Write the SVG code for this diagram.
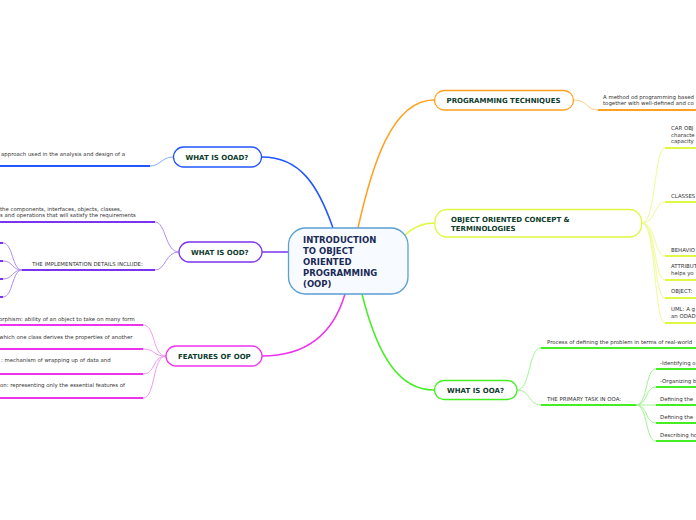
<svg xmlns="http://www.w3.org/2000/svg" width="696" height="520" viewBox="0 0 696 520">
<style>
.bg{fill:#ffffff}
.node{fill:#ffffff;stroke-width:1.3}
.lbl{font-family:"DejaVu Sans","Verdana",sans-serif;font-weight:bold;font-size:7px;fill:#0d3b2c}
.ctr{font-family:"DejaVu Sans","Verdana",sans-serif;font-weight:bold;font-size:8.5px;fill:#1a2a55}
.sm{font-family:"DejaVu Sans","Verdana",sans-serif;font-size:5.4px;fill:#333333}
.c{fill:none;stroke-width:1}
.u{fill:none;stroke-width:2}
.m{fill:none;stroke-width:1.5}
.blue{stroke:#2255ff}.blueL{stroke:#88a8ff}
.purple{stroke:#7a33ee}.purpleL{stroke:#b08cf5}
.mag{stroke:#ee33ee}.magL{stroke:#f59af5}
.orange{stroke:#ffa020}.orangeL{stroke:#ffcd80}
.yel{stroke:#e0f844}.yelL{stroke:#eefb95}
.green{stroke:#44ee22}.greenL{stroke:#a0f590}
</style>
<rect class="bg" x="0" y="0" width="696" height="520"/>
<g id="connectors">
  <!-- main -->
  <path class="m blue" d="M262,157 C300,157 318,185 333,228"/>
  <path class="m orange" d="M358,228 C372,165 392,100 434,100"/>
  <path class="m yel" d="M404,236 C414,226 424,223 435,223"/>
  <path class="m purple" d="M262,252 L288,252"/>
  <path class="m mag" d="M345,294 C332,338 302,356 262,356"/>
  <path class="m green" d="M362,294 C378,358 400,390 434,390"/>
  <!-- OOAD -->
  <path class="c blueL" d="M173,157 C162,157 160,166 150,166"/>
  <path class="u blue" d="M0,166 L150,166"/>
  <!-- OOD -->
  <path class="c purpleL" d="M179,252 C165,252 166,222 155,222"/>
  <path class="c purpleL" d="M179,252 C165,252 166,270 155,270"/>
  <path class="u purple" d="M0,222 L155,222"/>
  <path class="u purple" d="M22,270 L155,270"/>
  <path class="c purpleL" d="M22,270 C12,270 13,243 3,243"/>
  <path class="c purpleL" d="M22,270 C12,270 13,261 3,261"/>
  <path class="c purpleL" d="M22,270 C12,270 13,279 3,279"/>
  <path class="c purpleL" d="M22,270 C12,270 13,297 3,297"/>
  <path class="u purple" d="M0,243 L3,243 M0,261 L3,261 M0,279 L3,279 M0,297 L3,297"/>
  <!-- Features -->
  <path class="c magL" d="M166,356 C152,356 156,325 143,325"/>
  <path class="c magL" d="M166,356 C152,356 156,349 143,349"/>
  <path class="c magL" d="M166,356 C152,356 156,374 143,374"/>
  <path class="c magL" d="M166,356 C152,356 156,398 143,398"/>
  <path class="u mag" d="M0,325 L143,325 M0,349 L143,349 M0,374 L143,374 M0,398 L143,398"/>
  <!-- Programming -->
  <path class="c orangeL" d="M574,100 C588,100 586,110 598,110"/>
  <path class="u orange" d="M598,110 L696,110"/>
  <!-- OO concept -->
  <path class="c yelL" d="M642,223 C656,223 654,148 665,148"/>
  <path class="c yelL" d="M642,223 C656,223 654,202 665,202"/>
  <path class="c yelL" d="M642,223 C656,223 654,256 665,256"/>
  <path class="c yelL" d="M642,223 C656,223 654,280 665,280"/>
  <path class="c yelL" d="M642,223 C656,223 654,298 665,298"/>
  <path class="c yelL" d="M642,223 C656,223 654,323 665,323"/>
  <path class="u yel" d="M665,148 L696,148 M665,202 L696,202 M665,256 L696,256 M665,280 L696,280 M665,298 L696,298 M665,323 L696,323"/>
  <!-- OOA -->
  <path class="c greenL" d="M517,390 C531,390 528,348 541,348"/>
  <path class="c greenL" d="M517,390 C531,390 528,405 541,405"/>
  <path class="u green" d="M541,348 L696,348"/>
  <path class="u green" d="M541,405 L636,405"/>
  <path class="c greenL" d="M636,405 C648,405 645,369 656,369"/>
  <path class="c greenL" d="M636,405 C648,405 645,387 656,387"/>
  <path class="c greenL" d="M636,405 C648,405 645,405 656,405"/>
  <path class="c greenL" d="M636,405 C648,405 645,423 656,423"/>
  <path class="c greenL" d="M636,405 C648,405 645,441 656,441"/>
  <path class="u green" d="M656,369 L696,369 M656,387 L696,387 M656,405 L696,405 M656,423 L696,423 M656,441 L696,441"/>
</g>
<g id="center">
  <rect x="288.5" y="228" width="119.5" height="66" rx="17" fill="#f7fbff" stroke="#5a9fd4" stroke-width="1.3"/>
  <text class="ctr" x="303" y="243">INTRODUCTION</text>
  <text class="ctr" x="303" y="254">TO OBJECT</text>
  <text class="ctr" x="303" y="265">ORIENTED</text>
  <text class="ctr" x="303" y="276">PROGRAMMING</text>
  <text class="ctr" x="303" y="287">(OOP)</text>
</g>
<g id="ooad">
  <rect class="node" x="173.5" y="147" width="88" height="20" rx="10" stroke="#2255ff"/>
  <text class="lbl" x="185.5" y="159.5">WHAT IS OOAD?</text>
  <text class="sm" x="1" y="155.5">approach used in the analysis and design of a</text>
</g>
<g id="ood">
  <rect class="node" x="179" y="242" width="83" height="20" rx="10" stroke="#7a33ee"/>
  <text class="lbl" x="191" y="254.5">WHAT IS OOD?</text>
  <text class="sm" x="0" y="211">the components, interfaces, objects, classes,</text>
  <text class="sm" x="0" y="216.5">s and operations that will satisfy the requirements</text>
  <text class="sm" x="32" y="265.5">THE IMPLEMENTATION DETAILS INCLUDE:</text>
</g>
<g id="features">
  <rect class="node" x="166" y="346" width="96" height="20" rx="10" stroke="#ee33ee"/>
  <text class="lbl" x="178" y="358.5">FEATURES OF OOP</text>
  <text class="sm" x="-1" y="320.5">orphism: ability of an object to take on many form</text>
  <text class="sm" x="-1" y="338.5">which one class derives the properties of another</text>
  <text class="sm" x="1" y="362">: mechanism of wrapping up of data and</text>
  <text class="sm" x="0" y="387">on: representing only the essential features of</text>
</g>
<g id="programming">
  <rect class="node" x="434.5" y="90.5" width="139" height="19.5" rx="9.75" stroke="#ffa020"/>
  <text class="lbl" x="446.5" y="103">PROGRAMMING TECHNIQUES</text>
  <text class="sm" x="603" y="98.5">A method od programming based</text>
  <text class="sm" x="603" y="104.5">together with well-defined and co</text>
</g>
<g id="oo-concept">
  <rect class="node" x="435" y="209.5" width="206.5" height="27.5" rx="12" stroke="#e0f844"/>
  <text class="lbl" x="451" y="222">OBJECT ORIENTED CONCEPT &amp;</text>
  <text class="lbl" x="451" y="230.5">TERMINOLOGIES</text>
  <text class="sm" x="671" y="130">CAR OBJ</text>
  <text class="sm" x="671" y="136.5">characte</text>
  <text class="sm" x="671" y="143">capacity</text>
  <text class="sm" x="671" y="197.5">CLASSES</text>
  <text class="sm" x="671" y="251.5">BEHAVIO</text>
  <text class="sm" x="671" y="268">ATTRIBUT</text>
  <text class="sm" x="671" y="275">helps yo</text>
  <text class="sm" x="671" y="293">OBJECT:</text>
  <text class="sm" x="671" y="310.5">UML: A g</text>
  <text class="sm" x="671" y="318">an ODAD</text>
</g>
<g id="ooa">
  <rect class="node" x="434.5" y="380.5" width="82.5" height="19" rx="9.5" stroke="#44ee22"/>
  <text class="lbl" x="447" y="393">WHAT IS OOA?</text>
  <text class="sm" x="547" y="344">Process of defining the problem in terms of real-world</text>
  <text class="sm" x="547" y="401">THE PRIMARY TASK IN OOA:</text>
  <text class="sm" x="660" y="364.5">-Identifying o</text>
  <text class="sm" x="660" y="382.5">-Organizing b</text>
  <text class="sm" x="660" y="400.5">Defining the</text>
  <text class="sm" x="660" y="418.5">Defining the</text>
  <text class="sm" x="660" y="436.5">Describing ho</text>
</g>
</svg>
